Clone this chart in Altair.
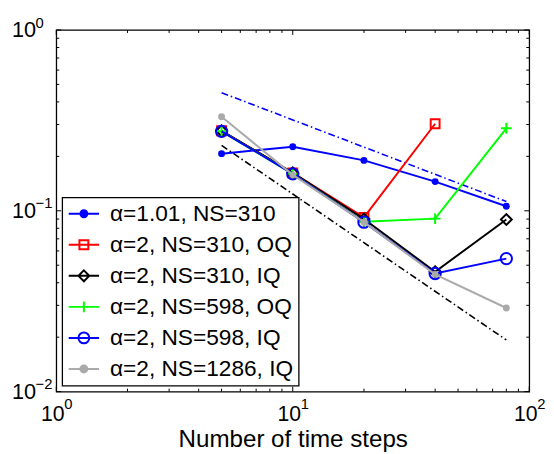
import altair as alt
import pandas as pd

# ---------------- data ----------------
steps = [5, 10, 20, 40, 80]
names = [
    "α=1.01, NS=310",
    "α=2, NS=310, OQ",
    "α=2, NS=310, IQ",
    "α=2, NS=598, OQ",
    "α=2, NS=598, IQ",
    "α=2, NS=1286, IQ",
]
err_a101_ns310 = [0.207, 0.226, 0.190, 0.145, 0.106]
err_ns310_oq = [0.277, 0.162, 0.092, 0.303]
err_ns310_iq = [0.277, 0.162, 0.090, 0.046, 0.0895]
err_ns598_oq = [0.275, 0.160, 0.087, 0.0905, 0.286]
err_ns598_iq = [0.275, 0.160, 0.0865, 0.045, 0.0544]
err_ns1286_iq = [0.331, 0.158, 0.0865, 0.0445, 0.029]
series_values = [err_a101_ns310, err_ns310_oq, err_ns310_iq,
                 err_ns598_oq, err_ns598_iq, err_ns1286_iq]

ref_x = [5, 80]
ref_blue = [0.45, 0.1125]
ref_black = [0.23, 0.0193]

x_major = [1, 10, 100]
x_exps = ["0", "1", "2"]
y_major = [0.01, 0.1, 1]
y_exps = ["\u22122", "\u22121", "0"]
x_minor = [2, 3, 4, 5, 6, 7, 8, 9, 20, 30, 40, 50, 60, 70, 80, 90]
y_minor = [0.02, 0.03, 0.04, 0.05, 0.06, 0.07, 0.08, 0.09,
           0.2, 0.3, 0.4, 0.5, 0.6, 0.7, 0.8, 0.9]

# ---------------- styles ----------------
FONT = "Liberation Sans"
W, H = 480, 367
colors = ["#0000ff", "#ff0000", "#000000", "#00ff00", "#0000ff", "#aaaaaa"]
plus_path = "M-1,0H1M0,-1V1"
markers = [
    dict(shape="circle", filled=True, size=49),
    dict(shape="square", filled=False, size=81),
    dict(shape="diamond", filled=False, size=121),
    dict(shape=plus_path, filled=False, size=121),
    dict(shape="circle", filled=False, size=132),
    dict(shape="circle", filled=True, size=49),
]
seg = "M-2.8,0H2.8"
legend_paths = [
    seg + "M-0.64,0A0.64,0.64,0,1,1,0.64,0A0.64,0.64,0,1,1,-0.64,0Z",
    seg + "M-0.82,-0.82H0.82V0.82H-0.82Z",
    seg + "M0,-1L1,0L0,1L-1,0Z",
    seg + plus_path,
    seg + "M-1,0A1,1,0,1,1,1,0A1,1,0,1,1,-1,0Z",
    seg + "M-0.64,0A0.64,0.64,0,1,1,0.64,0A0.64,0.64,0,1,1,-0.64,0Z",
]
legend_fills = ["#0000ff", "transparent", "transparent", "transparent",
                "transparent", "#aaaaaa"]

rows = []
for name, vals in zip(names, series_values):
    for xv, yv in zip(steps, vals):
        rows.append({"series": name, "x": xv, "y": yv})
df = pd.DataFrame(rows)

xs = alt.Scale(type="log", domain=[1, 100], nice=False)
ys = alt.Scale(type="log", domain=[0.01, 1], nice=False)
xaxis = alt.Axis(values=x_major, labelExpr="'10'", labelFontSize=21.5, labelFont=FONT,
                 labelColor="black", ticks=False, tickSize=0, domain=False, grid=False,
                 labelPadding=23.5, labelBaseline="middle", labelOffset=-4,
                 labelFlush=False, labelOverlap=False, labelBound=False,
                 title="Number of time steps", titleFontSize=24.5, titleFont=FONT,
                 titleFontWeight="normal", titleColor="black", titleY=56,
                 titleBaseline="alphabetic")
yaxis = alt.Axis(values=y_major, labelExpr="'10'", labelFontSize=22, labelFont=FONT,
                 labelColor="black", ticks=False, tickSize=0, domain=False, grid=False,
                 labelPadding=21, labelAlign="right", labelBaseline="middle",
                 labelFlush=False, labelOverlap=False, labelBound=False, title=None)
X = alt.X("x:Q", scale=xs, axis=xaxis)
Y = alt.Y("y:Q", scale=ys, axis=yaxis)

layers = []

# inward ticks on all four sides
def tick_layers(xvals, yvals, ln):
    dx = pd.DataFrame({"x": xvals})
    dy = pd.DataFrame({"y": yvals})
    return [
        alt.Chart(dx).mark_rule(color="black", strokeWidth=1).encode(
            x=X, y=alt.value(H), y2=alt.value(H - ln)),
        alt.Chart(dx).mark_rule(color="black", strokeWidth=1).encode(
            x=X, y=alt.value(0), y2=alt.value(ln)),
        alt.Chart(dy).mark_rule(color="black", strokeWidth=1).encode(
            y=Y, x=alt.value(0), x2=alt.value(ln)),
        alt.Chart(dy).mark_rule(color="black", strokeWidth=1).encode(
            y=Y, x=alt.value(W), x2=alt.value(W - ln)),
    ]

layers += tick_layers(x_minor, y_minor, 3)
layers += tick_layers(x_major, y_major, 5)

# exponents of the tick labels
xe = pd.DataFrame({"x": x_major, "label": x_exps})
ye = pd.DataFrame({"y": y_major, "label": y_exps})
layers.append(alt.Chart(xe).mark_text(align="left", baseline="middle", dx=8, dy=13,
                                      fontSize=15, font=FONT, color="black").encode(
    x=X, y=alt.value(H), text="label:N"))
layers.append(alt.Chart(ye).mark_text(align="left", baseline="middle", dx=-21, dy=-7.5,
                                      fontSize=15, font=FONT, color="black").encode(
    y=Y, x=alt.value(0), text="label:N"))

# reference slopes
for vals, col in [(ref_blue, "#0000ff"), (ref_black, "#000000")]:
    rdf = pd.DataFrame({"x": ref_x, "y": vals})
    layers.append(alt.Chart(rdf).mark_line(color=col, strokeWidth=1.6,
                                           strokeDash=[7, 3, 1.5, 3]).encode(x=X, y=Y))

# data series
base = alt.Chart(df)
for name, col, mk in zip(names, colors, markers):
    sub = base.transform_filter(alt.datum.series == name)
    layers.append(sub.mark_line(color=col, strokeWidth=2).encode(x=X, y=Y))
    layers.append(sub.mark_point(shape=mk["shape"], size=mk["size"], strokeWidth=2,
                                 opacity=1, filled=mk["filled"], color=col).encode(x=X, y=Y))

# legend-only layer (no visible marks)
leg = alt.Legend(title=None, orient="bottom-left", offset=6, padding=5,
                 strokeColor="black", fillColor="white",
                 labelFontSize=23, labelFont=FONT, labelColor="black", labelLimit=400,
                 symbolSize=121, symbolStrokeWidth=2, symbolOffset=5.5,
                 labelOffset=15, rowPadding=7.5, symbolOpacity=1)
layers.append(base.transform_filter("false").mark_point().encode(
    x=X, y=Y,
    stroke=alt.Stroke("series:N", scale=alt.Scale(domain=names, range=colors), legend=leg),
    fill=alt.Fill("series:N", scale=alt.Scale(domain=names, range=legend_fills), legend=leg),
    shape=alt.Shape("series:N", scale=alt.Scale(domain=names, range=legend_paths), legend=leg),
))

chart = alt.layer(*layers).properties(
    width=W, height=H,
    autosize=alt.AutoSizeParams(type="none"),
    padding={"left": 49, "top": 19, "right": 17, "bottom": 59},
).configure(font=FONT).configure_view(stroke="black", strokeWidth=1.3).configure_legend(
    strokeWidth=1.3)

chart.save("out.html", embed_options={"renderer": "svg", "actions": False})
